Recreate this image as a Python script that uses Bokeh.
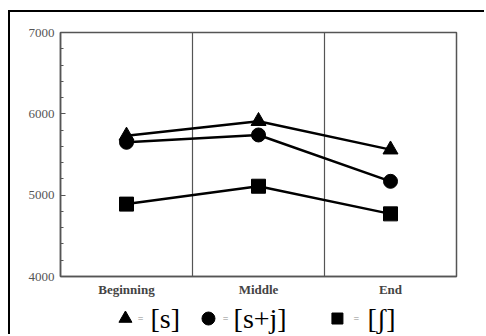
from bokeh.plotting import figure
from bokeh.layouts import column
from bokeh.models import Range1d, SingleIntervalTicker, FixedTicker
from bokeh.core.properties import value
from bokeh.embed import file_html
from bokeh.resources import INLINE

positions = ["Beginning", "Middle", "End"]
s_vals = [5730, 5910, 5560]
sj_vals = [5650, 5740, 5170]
sh_vals = [4890, 5110, 4770]
legend_labels = ["[s]", "[s+j]", "[ʃ]"]
markers = ["triangle", "circle", "square"]
y_ticks_interval = 1000

xs = [i + 0.5 for i in range(len(positions))]

grey = "#555555"
serif = "Liberation Serif"

p = figure(frame_width=396, frame_height=244,
           x_range=Range1d(0, len(positions)), y_range=Range1d(4000, 7000),
           output_backend="svg", toolbar_location=None,
           min_border_left=50, min_border_right=28, min_border_top=20, min_border_bottom=24)

# y axis
p.yaxis.ticker = SingleIntervalTicker(interval=y_ticks_interval, num_minor_ticks=5)
p.yaxis.major_tick_in = 5
p.yaxis.major_tick_out = 0
p.yaxis.minor_tick_in = 3
p.yaxis.minor_tick_out = 0
p.yaxis.major_tick_line_color = grey
p.yaxis.minor_tick_line_color = grey
p.yaxis.axis_line_color = grey
p.yaxis.axis_line_width = 1.5
p.yaxis.major_label_text_font = serif
p.yaxis.major_label_text_font_size = "13px"
p.yaxis.major_label_text_color = grey
p.yaxis.major_label_standoff = 6

# x axis
p.xaxis.ticker = FixedTicker(ticks=xs)
p.xaxis.major_label_overrides = {x: lab for x, lab in zip(xs, positions)}
p.xaxis.major_tick_in = 0
p.xaxis.major_tick_out = 0
p.xaxis.minor_tick_in = 0
p.xaxis.minor_tick_out = 0
p.xaxis.axis_line_color = grey
p.xaxis.axis_line_width = 1.5
p.xaxis.major_label_text_font = serif
p.xaxis.major_label_text_font_size = "13px"
p.xaxis.major_label_text_font_style = "bold"
p.xaxis.major_label_text_color = "#444444"
p.xaxis.major_label_standoff = 5

p.xgrid.ticker = FixedTicker(ticks=[i for i in range(1, len(positions))])
p.xgrid.grid_line_color = grey
p.xgrid.grid_line_width = 1.2
p.ygrid.grid_line_color = None
p.outline_line_color = grey
p.outline_line_width = 1.5
p.outline_line_alpha = 1

sizes = [15, 14, 14]
for vals, marker, size in zip([s_vals, sj_vals, sh_vals], markers, sizes):
    p.line(xs, vals, line_color="black", line_width=2.5)
    p.scatter(xs, vals, marker=marker, size=size, fill_color="black", line_color="black")

# legend strip below the chart, sharing the x scale
leg = figure(frame_width=396, frame_height=34, x_range=p.x_range, y_range=Range1d(0, 1),
             output_backend="svg", toolbar_location=None,
             x_axis_location=None, y_axis_location=None,
             min_border_left=50, min_border_right=28, min_border_top=0, min_border_bottom=0)
leg.outline_line_color = None
leg.xgrid.grid_line_color = None
leg.ygrid.grid_line_color = None

leg_marker_x = [0.492, 1.121, 2.098]
leg_eq_x = [0.606, 1.25, 2.242]
leg_text_x = [0.682, 1.311, 2.326]
leg_y = 0.47
leg_sizes = [13, 13, 11]
for mx, m, sz in zip(leg_marker_x, markers, leg_sizes):
    leg.scatter([mx], [leg_y], marker=m, size=sz, fill_color="black", line_color="black")
leg.text(x=leg_eq_x, y=[leg_y] * 3, text=["="] * 3, text_font=value(serif),
         text_font_size=value("10px"), text_color="#888888",
         text_align="center", text_baseline="middle")
leg.text(x=leg_text_x, y=[leg_y] * 3, text=legend_labels, text_font=value(serif),
         text_font_size=value("28px"), text_color="black",
         text_align="left", text_baseline="middle")

layout = column(p, leg, spacing=0,
                styles={"border-left": "2px solid black", "border-top": "2px solid black",
                        "margin-left": "8px", "margin-top": "10px"})

open("out.html", "w").write(file_html(layout, INLINE))
